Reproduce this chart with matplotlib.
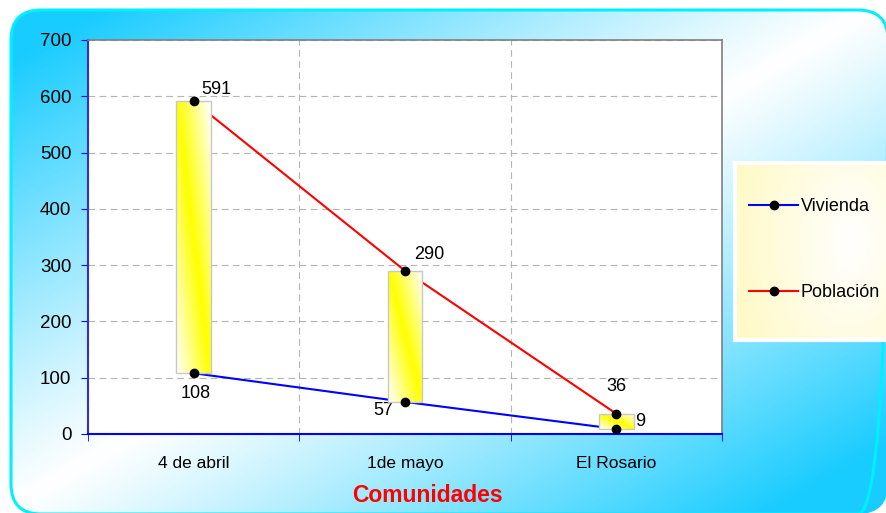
import numpy as np
import matplotlib
matplotlib.use('Agg')
import matplotlib.pyplot as plt
from matplotlib.patches import FancyBboxPatch, Rectangle
from matplotlib.lines import Line2D

# ── Data ──────────────────────────────────────────────────
categories = ['4 de abril', '1de mayo', 'El Rosario']
vivienda   = [108, 57, 9]
poblacion  = [591, 290, 36]
y_ticks    = [0, 100, 200, 300, 400, 500, 600, 700]

# label offsets in pixels (dx, dy) for each point
pob_offsets = [(23, 12), (24, 16), (0, 27)]
viv_offsets = [(2, -20), (-22, -9), (24, 7)]

plt.rcParams['font.family'] = ['Liberation Sans', 'DejaVu Sans']

W, H = 886, 513
fig = plt.figure(figsize=(W / 100, H / 100), dpi=100)
fig.patch.set_facecolor('white')

# ── Background: rounded panel with diagonal blue/white gradient ──
bg = fig.add_axes([0, 0, 1, 1])
bg.axis('off')
gx, gy = np.meshgrid(np.linspace(0, 1, 300), np.linspace(0, 1, 200))
t = np.abs((gx + gy) - 1.0)          # 0 on the anti-diagonal, 1 at corners
t = np.clip(t * 1.15, 0, 1) ** 1.1
blue = np.array([0.10, 0.80, 1.0])
white = np.array([1.0, 1.0, 1.0])
img = white[None, None, :] * (1 - t[..., None]) + blue[None, None, :] * t[..., None]
im = bg.imshow(img, extent=[0, W, H, 0], aspect='auto', zorder=1)
panel = FancyBboxPatch((11, 10), 877, 504, boxstyle='round,pad=0,rounding_size=30',
                       facecolor='none', edgecolor='#00f0ff', linewidth=2.2, zorder=3)
bg.add_patch(panel)
im.set_clip_path(panel)
bg.set_xlim(0, W); bg.set_ylim(H, 0)

# ── Legend background ─────────────────────────────────────
lx0, lx1, ly0, ly1 = 735, 890, 163, 340
lax = fig.add_axes([lx0 / W, 1 - ly1 / H, (lx1 - lx0) / W, (ly1 - ly0) / H])
lgx, lgy = np.meshgrid(np.linspace(0, 1, 100), np.linspace(0, 1, 100))
lt = np.clip(1 - np.hypot((lgx - 0.75) * 1.3, (lgy - 0.45) * 0.9), 0, 1)
pale = np.array([1.0, 0.98, 0.78])
limg = pale[None, None, :] * (1 - lt[..., None]) + white[None, None, :] * lt[..., None]
lax.imshow(limg, extent=[0, 1, 0, 1], aspect='auto')
lax.set_xlim(0, 1); lax.set_ylim(0, 1)
lax.set_xticks([]); lax.set_yticks([])
for s in lax.spines.values():
    s.set_color('white'); s.set_linewidth(3)

# ── Main chart ────────────────────────────────────────────
ax = fig.add_axes([88 / W, 1 - 434 / H, (722 - 88) / W, (434 - 40) / H])
ax.set_facecolor('white')
x = np.arange(len(categories))

ax.plot(x, vivienda, color='#0000ff', lw=1.5, zorder=2)
ax.plot(x, poblacion, color='#ff0000', lw=1.5, zorder=2)

# up-down bars with diagonal yellow gradient
bw = 0.165
bx, by = np.meshgrid(np.linspace(0, 1, 40), np.linspace(0, 1, 200))
u = np.clip(np.abs(bx - by), 0, 1)
yellow = np.array([1.0, 1.0, 0.0])
bimg = yellow[None, None, :] * (1 - u[..., None]) + white[None, None, :] * u[..., None]
for xi, lo, hi in zip(x, vivienda, poblacion):
    rect = Rectangle((xi - bw / 2, lo), bw, hi - lo, facecolor='none',
                     edgecolor='#c8c8c8', lw=1, zorder=4)
    ax.add_patch(rect)
    bi = ax.imshow(bimg, extent=[xi - bw / 2, xi + bw / 2, lo, hi],
                   aspect='auto', zorder=3)
    bi.set_clip_path(rect)

ax.plot(x, vivienda, 'o', color='black', ms=6, zorder=5)
ax.plot(x, poblacion, 'o', color='black', ms=6, zorder=5)

for xi, v, off in zip(x, poblacion, pob_offsets):
    ax.annotate(str(v), (xi, v), xytext=off, textcoords='offset pixels',
                ha='center', va='center', fontsize=13)
for xi, v, off in zip(x, vivienda, viv_offsets):
    ax.annotate(str(v), (xi, v), xytext=off, textcoords='offset pixels',
                ha='center', va='center', fontsize=13)

ax.set_xlim(-0.5, len(categories) - 0.5)
ax.set_ylim(0, 700)
ax.set_yticks(y_ticks)
ax.set_xticks(x)
ax.set_xticklabels(categories)
ax.set_xticks(np.arange(-0.5, len(categories)), minor=True)
ax.tick_params(axis='x', which='major', length=0, pad=16, labelsize=12.5)
ax.tick_params(axis='x', which='minor', length=5, color='#0000ff', direction='out')
ax.tick_params(axis='y', length=5, color='#0000ff', direction='out', pad=7, labelsize=13.5)

ax.grid(axis='y', which='major', color='#b4b4b4', linestyle=(0, (6, 4)), lw=0.8)
ax.grid(axis='x', which='minor', color='#b4b4b4', linestyle=(0, (6, 4)), lw=0.8)
ax.set_axisbelow(True)

ax.spines['left'].set_color('#3030d0')
ax.spines['bottom'].set_color('#0000ff')
ax.spines['left'].set_linewidth(1.5)
ax.spines['bottom'].set_linewidth(1.5)
ax.spines['top'].set_color('#808080')
ax.spines['right'].set_color('#808080')
ax.spines['top'].set_linewidth(1.2)
ax.spines['right'].set_linewidth(1.2)

ax.set_xlabel('Comunidades', color='#ff0000', fontsize=16.5, fontweight='bold')
ax.xaxis.set_label_coords((427 - 88) / 634, (434 - 495) / 394)
ax.xaxis.label.set_va('center')

# ── Legend ────────────────────────────────────────────────
handles = [
    Line2D([], [], color='#0000ff', lw=1.5, marker='o', mfc='black', mec='black', ms=6),
    Line2D([], [], color='#ff0000', lw=1.5, marker='o', mfc='black', mec='black', ms=6),
]
fig.legend(handles, ['Vivienda', 'Población'], loc='upper left',
           bbox_to_anchor=(742 / W, 1 - 191 / H), frameon=False,
           fontsize=13, handlelength=2.7, handletextpad=0.15, labelspacing=3.8,
           borderaxespad=0)

fig.savefig('out.png', dpi=100)
